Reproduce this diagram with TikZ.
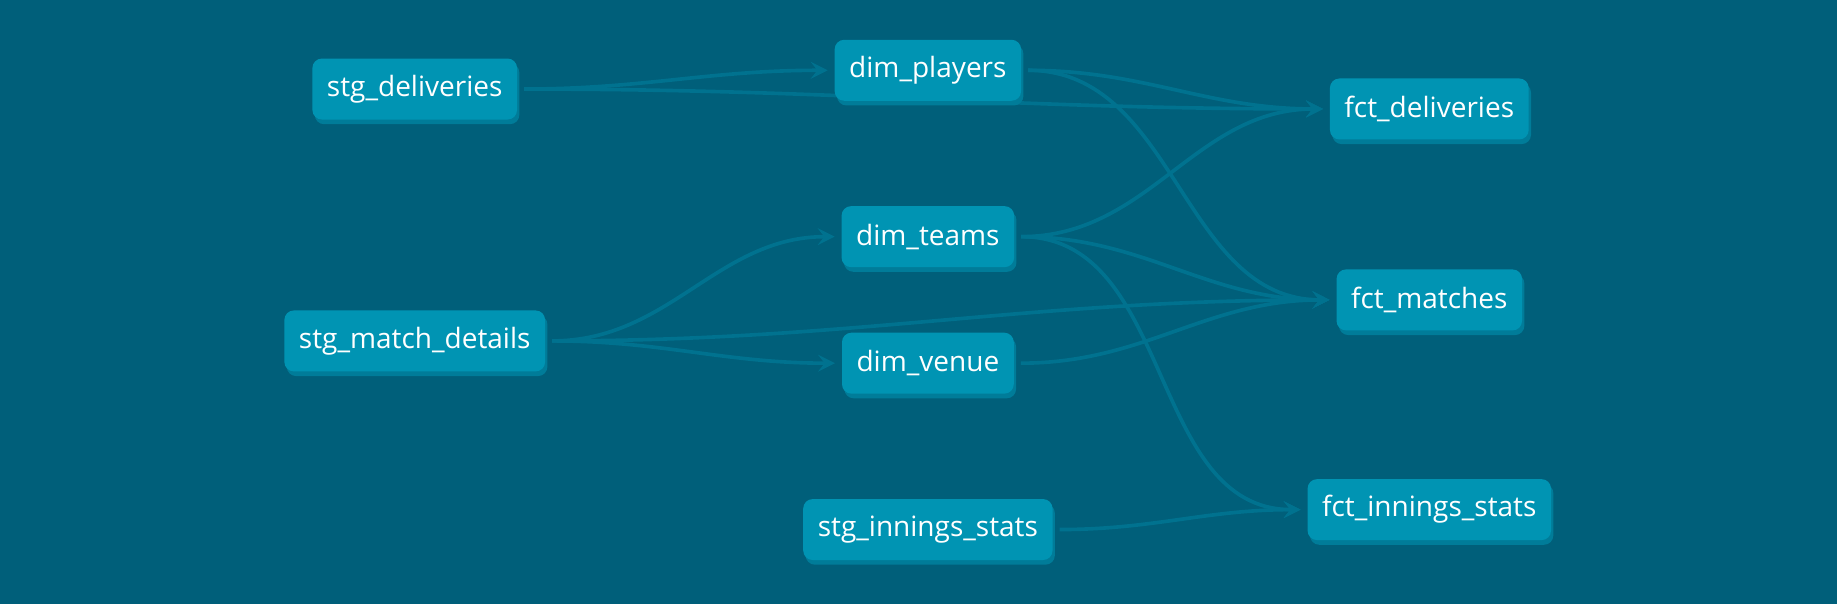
\documentclass[tikz,border=0pt]{standalone}
\usepackage{fontspec}
\setmainfont{Open Sans}
\usetikzlibrary{arrows.meta,shadows,backgrounds}
\definecolor{bgblue}{HTML}{005F7A}
\definecolor{nodeblue}{HTML}{0094B3}
\definecolor{shadeblue}{HTML}{007C99}
\definecolor{edgeblue}{HTML}{00728F}
\tikzset{
  model/.style={rectangle, rounded corners=0.2cm, fill=nodeblue, text=white,
    font=\fontsize{17}{20}\selectfont, minimum height=1.3cm, inner xsep=0.31cm,
    outer sep=0.15cm,
    copy shadow={shadow xshift=0.05cm, shadow yshift=-0.1cm, fill=shadeblue, draw=none}},
  dep/.style={draw=edgeblue, line width=2.2pt,
    -{Stealth[length=0.36cm, width=0.36cm, inset=0.14cm]}},
}
\begin{document}
\begin{tikzpicture}[x=0.025cm, y=-0.025cm]
      \useasboundingbox (0,0) rectangle (1568,515.6);
      \node[model] (stgdel) at (354,76) {stg\_deliveries};
      \node[model] (stgmatch) at (354,291) {stg\_match\_details};
      \node[model] (stginn) at (792,452) {stg\_innings\_stats};
      \node[model] (dimpl) at (792,60) {dim\_players};
      \node[model] (dimteams) at (792,202) {dim\_teams};
      \node[model] (dimvenue) at (792,310) {dim\_venue};
      \node[model] (fctdel) at (1220,93) {fct\_deliveries};
      \node[model] (fctmatch) at (1220,256) {fct\_matches};
      \node[model] (fctinn) at (1220,435) {fct\_innings\_stats};
      \begin{scope}[on background layer]
        \fill[bgblue] (0,0) rectangle (1568,515.6);
        \draw[dep] (stgdel.east) to[out=0,in=180] (dimpl.west);
        \draw[dep] (stgdel.east) to[out=0,in=180] (fctdel.west);
        \draw[dep] (dimpl.east) to[out=0,in=180] (fctdel.west);
        \draw[dep] (dimpl.east) to[out=0,in=180] (fctmatch.west);
        \draw[dep] (dimteams.east) to[out=0,in=180] (fctdel.west);
        \draw[dep] (dimteams.east) to[out=0,in=180] (fctmatch.west);
        \draw[dep] (dimteams.east) to[out=0,in=180] (fctinn.west);
        \draw[dep] (stgmatch.east) to[out=0,in=180] (dimteams.west);
        \draw[dep] (stgmatch.east) to[out=0,in=180] (dimvenue.west);
        \draw[dep] (stgmatch.east) to[out=0,in=180] (fctmatch.west);
        \draw[dep] (dimvenue.east) to[out=0,in=180] (fctmatch.west);
        \draw[dep] (stginn.east) to[out=0,in=180] (fctinn.west);
      \end{scope}
    \end{tikzpicture}
\end{document}
